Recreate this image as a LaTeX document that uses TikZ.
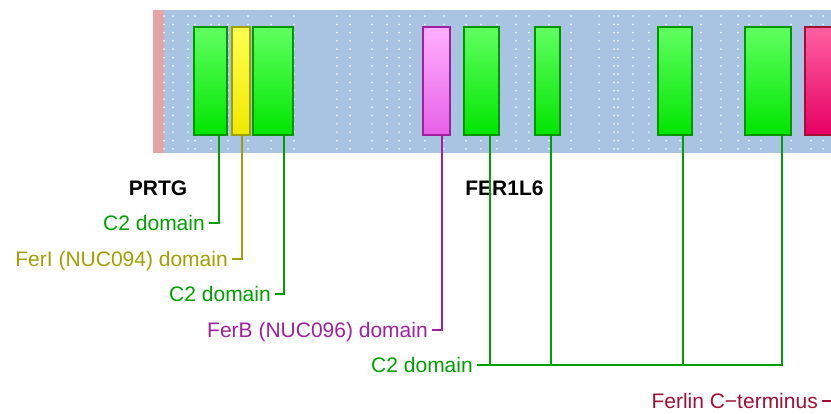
\documentclass[tikz,border=0pt]{standalone}
\usepackage{fontspec}
\setmainfont{Liberation Sans}
\usepackage{xcolor}
\definecolor{banda}{RGB}{168,196,226}
\definecolor{testa}{RGB}{226,164,164}
\definecolor{verde}{RGB}{0,160,0}
\definecolor{verdebordo}{RGB}{0,150,0}
\definecolor{verdechiaro}{RGB}{96,255,96}
\definecolor{verdepieno}{RGB}{0,230,0}
\definecolor{oliva}{RGB}{160,160,0}
\definecolor{giallochiaro}{RGB}{255,255,80}
\definecolor{giallopieno}{RGB}{240,232,0}
\definecolor{viola}{RGB}{160,32,160}
\definecolor{rosachiaro}{RGB}{255,176,255}
\definecolor{rosapieno}{RGB}{230,96,230}
\definecolor{rossoscuro}{RGB}{160,16,48}
\definecolor{rossochiaro}{RGB}{255,96,160}
\definecolor{rossopieno}{RGB}{230,0,100}

\begin{document}
\begin{tikzpicture}[
    x=1pt, y=-1pt,
    dominio/.style   = {draw, line width=1.3pt, inner sep=0pt, minimum height=108pt},
    verdebox/.style  = {dominio, draw=verdebordo, top color=verdechiaro, bottom color=verdepieno},
    giallobox/.style = {dominio, draw=oliva, top color=giallochiaro, bottom color=giallopieno},
    rosabox/.style   = {dominio, draw=viola, top color=rosachiaro, bottom color=rosapieno},
    rossobox/.style  = {dominio, draw=rossoscuro, top color=rossochiaro, bottom color=rossopieno},
    filo/.style      = {line width=2pt},
    etichetta/.style = {font=\fontsize{21}{25}\selectfont, anchor=east, inner xsep=4pt,
                        inner ysep=0pt, text height=15pt, text depth=0pt},
    titolo/.style    = {font=\fontsize{21}{25}\selectfont\bfseries, anchor=base, inner sep=0pt}
]
\useasboundingbox (0,0) rectangle (831,413);
\clip (0,0) rectangle (831,413);

% ---- banda della proteina ----
\fill[banda] (164,10) rectangle (831,153);
\fill[testa] (153,10) rectangle (164,153);
\foreach \x in {164,173,188,195,211,219,228,248,271,294,337,350,372,387,399,410,425,444,
                466,481,497,516,529,549,571,599,614,618,633,649,666,680,701,721,738,749,761,791,811,823}{
    \foreach \k in {0,...,16}{
        \fill[white, opacity=0.85] (\x,{16+8.3*\k}) circle (1pt);
    }
}

% ---- domini ----
\node[verdebox,  minimum width=33pt] (c2uno)     at (210.5,81) {};
\node[giallobox, minimum width=18pt] (ferI)      at (241,81)   {};
\node[verdebox,  minimum width=40pt] (c2due)     at (273,81)   {};
\node[rosabox,   minimum width=27pt] (ferB)      at (436.5,81) {};
\node[verdebox,  minimum width=35pt] (c2tre)     at (481.5,81) {};
\node[verdebox,  minimum width=25pt] (c2quattro) at (547.5,81) {};
\node[verdebox,  minimum width=34pt] (c2cinque)  at (675,81)   {};
\node[verdebox,  minimum width=46pt] (c2sei)     at (768,81)   {};
\node[rossobox,  minimum width=60pt] (cterm)     at (835,81)   {};

% ---- nomi delle proteine ----
\node[titolo] (prtg)  at (158,195.5) {PRTG};
\node[titolo] (fer1l6) at (504.5,195) {FER1L6};

% ---- etichette ----
\node[etichetta, text=verde]      (lc2uno)  at (209,223) {C2 domain};
\node[etichetta, text=oliva]      (lferI)   at (232,259) {FerI (NUC094) domain};
\node[etichetta, text=verde]      (lc2due)  at (275,294) {C2 domain};
\node[etichetta, text=viola]      (lferB)   at (432,330) {FerB (NUC096) domain};
\node[etichetta, text=verde]      (lc2tre)  at (477,365) {C2 domain};
\node[etichetta, text=rossoscuro] (lcterm)  at (822,401) {Ferlin C−terminus};

% ---- collegamenti ----
\draw[filo, verde] ([xshift=26pt]c2uno.south west) |- (lc2uno.east);
\draw[filo, oliva] ([xshift=11pt]ferI.south west)  |- (lferI.east);
\draw[filo, verde] ([xshift=32pt]c2due.south west) |- (lc2due.east);
\draw[filo, viola] ([xshift=20pt]ferB.south west)  |- (lferB.east);
\foreach \b/\d in {c2tre/27,c2quattro/17,c2cinque/26,c2sei/38}{
    \draw[filo, verde] ([xshift=\d pt]\b.south west) |- (lc2tre.east);
}
\draw[filo, rossoscuro] (cterm.south) |- (lcterm.east);

\end{tikzpicture}
\end{document}
